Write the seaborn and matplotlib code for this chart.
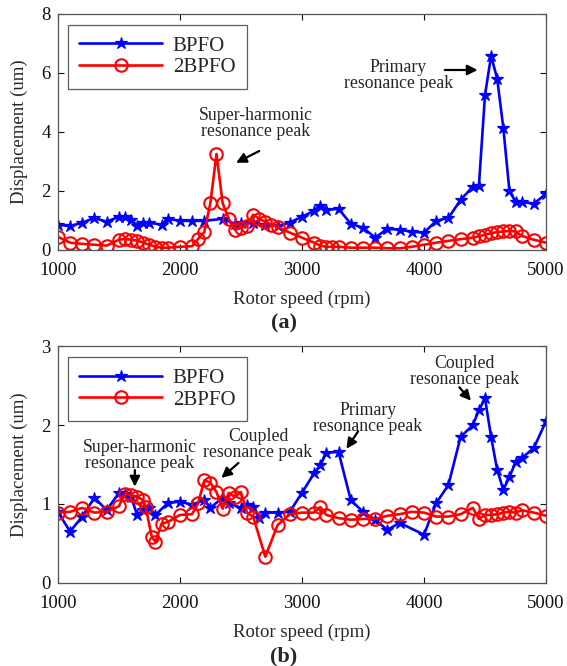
import matplotlib
matplotlib.use("Agg")
import matplotlib.pyplot as plt
import numpy as np
import pandas as pd
import seaborn as sns

# ---- panel (a) data ----
a_bpfo_rpm = [1000, 1100, 1200, 1300, 1400, 1500, 1550, 1600, 1650, 1700, 1750, 1850, 1900,
              2000, 2100, 2200, 2350, 2450, 2500, 2600, 2700, 2800, 2900, 3000, 3100, 3150,
              3200, 3300, 3400, 3500, 3600, 3700, 3800, 3900, 4000, 4100, 4200, 4300, 4400,
              4450, 4500, 4550, 4600, 4650, 4700, 4750, 4800, 4900, 5000]
a_bpfo_val = [0.85, 0.80, 0.92, 1.08, 0.95, 1.12, 1.10, 1.02, 0.82, 0.92, 0.92, 0.85, 1.05,
              0.98, 0.98, 0.98, 1.05, 0.88, 0.92, 0.90, 0.85, 0.80, 0.92, 1.12, 1.32, 1.50,
              1.35, 1.39, 0.88, 0.75, 0.41, 0.71, 0.68, 0.61, 0.58, 0.98, 1.08, 1.69, 2.14,
              2.17, 5.25, 6.58, 5.80, 4.14, 2.00, 1.63, 1.63, 1.56, 1.90]

a_2bpfo_rpm = [1000, 1100, 1200, 1300, 1400, 1500, 1550, 1600, 1650, 1700, 1750, 1800, 1850,
               1900, 2000, 2100, 2150, 2200, 2250, 2300, 2350, 2400, 2450, 2500, 2550, 2600,
               2650, 2700, 2750, 2800, 2900, 3000, 3100, 3150, 3200, 3250, 3300, 3400, 3500,
               3600, 3700, 3800, 3900, 4000, 4100, 4200, 4300, 4400, 4450, 4500, 4550, 4600,
               4650, 4700, 4750, 4800, 4900, 5000]
a_2bpfo_val = [0.44, 0.24, 0.20, 0.17, 0.14, 0.34, 0.37, 0.34, 0.31, 0.24, 0.17, 0.10, 0.07,
               0.07, 0.10, 0.12, 0.37, 0.60, 1.59, 3.25, 1.59, 1.05, 0.68, 0.75, 0.81, 1.19,
               1.05, 0.95, 0.85, 0.78, 0.58, 0.41, 0.24, 0.14, 0.10, 0.10, 0.10, 0.07, 0.07,
               0.07, 0.05, 0.05, 0.10, 0.17, 0.24, 0.30, 0.36, 0.41, 0.46, 0.51, 0.56, 0.60,
               0.62, 0.64, 0.62, 0.47, 0.34, 0.24]

# ---- panel (b) data ----
b_bpfo_rpm = [1000, 1100, 1200, 1300, 1400, 1500, 1550, 1600, 1650, 1700, 1750, 1800, 1900,
              2000, 2100, 2200, 2250, 2350, 2400, 2500, 2550, 2600, 2650, 2700, 2800, 2900,
              3000, 3100, 3150, 3200, 3300, 3400, 3500, 3600, 3700, 3800, 4000, 4100, 4200,
              4300, 4400, 4450, 4500, 4550, 4600, 4650, 4700, 4750, 4800, 4900, 5000]
b_bpfo_val = [0.90, 0.65, 0.84, 1.08, 0.92, 1.14, 1.13, 1.09, 0.86, 0.92, 0.95, 0.86, 1.01,
              1.03, 0.99, 1.05, 0.95, 1.08, 1.01, 0.95, 0.99, 0.96, 0.82, 0.89, 0.89, 0.90,
              1.14, 1.39, 1.49, 1.65, 1.66, 1.05, 0.90, 0.80, 0.67, 0.76, 0.61, 1.01, 1.24,
              1.85, 2.00, 2.19, 2.34, 1.85, 1.43, 1.18, 1.34, 1.53, 1.58, 1.71, 2.05]

b_2bpfo_rpm = [1000, 1100, 1200, 1300, 1400, 1500, 1550, 1600, 1650, 1700, 1720, 1770, 1800,
               1850, 1900, 2000, 2100, 2150, 2200, 2250, 2300, 2350, 2400, 2450, 2500, 2550,
               2600, 2700, 2800, 2900, 3000, 3100, 3150, 3200, 3300, 3400, 3500, 3600, 3700,
               3800, 3900, 4000, 4100, 4200, 4300, 4400, 4450, 4500, 4550, 4600, 4650, 4700,
               4750, 4800, 4900, 5000]
b_2bpfo_val = [0.89, 0.90, 0.95, 0.89, 0.90, 0.97, 1.13, 1.11, 1.09, 1.05, 0.96, 0.58, 0.52,
               0.75, 0.77, 0.86, 0.87, 1.01, 1.30, 1.27, 1.15, 0.94, 1.14, 1.09, 1.15, 0.89,
               0.84, 0.33, 0.73, 0.87, 0.89, 0.89, 0.96, 0.86, 0.82, 0.80, 0.81, 0.81, 0.85,
               0.87, 0.90, 0.89, 0.84, 0.84, 0.87, 0.95, 0.81, 0.86, 0.86, 0.87, 0.89, 0.90,
               0.89, 0.92, 0.89, 0.85]

x_ticks = [1000, 2000, 3000, 4000, 5000]
a_yticks = [0, 2, 4, 6, 8]
b_yticks = [0, 1, 2, 3]
series_names = ["BPFO", "2BPFO"]

sns.set_style("ticks")
plt.rcParams["font.family"] = ["Liberation Serif", "DejaVu Serif"]
plt.rcParams["mathtext.fontset"] = "stix"

fig = plt.figure(figsize=(5.67, 6.66), dpi=100)
ax_a = fig.add_axes([0.102, 0.625, 0.861, 0.354])
ax_b = fig.add_axes([0.102, 0.125, 0.861, 0.355])


def draw_panel(ax, bx, by, rx, ry, yticks):
    blue = pd.DataFrame({"rpm": bx, "disp": by})
    red = pd.DataFrame({"rpm": rx, "disp": ry})
    sns.lineplot(data=blue, x="rpm", y="disp", ax=ax, color="#0000ff", lw=1.9,
                 marker="*", markersize=9, markeredgecolor="#0000ff",
                 markerfacecolor="#0000ff", markeredgewidth=0.9, sort=False,
                 label=series_names[0])
    sns.lineplot(data=red, x="rpm", y="disp", ax=ax, color="#ff0000", lw=1.9,
                 marker="o", markersize=9, markeredgecolor="#ff0000",
                 markerfacecolor="none", markeredgewidth=1.5, sort=False,
                 label=series_names[1])
    ax.set_xlim(1000, 5000)
    ax.set_ylim(yticks[0], yticks[-1])
    ax.set_xticks(x_ticks)
    ax.set_yticks(yticks)
    ax.tick_params(direction="in", top=True, right=True, length=4, width=0.8,
                   labelsize=13.5, colors="#111111")
    ax.tick_params(axis="x", pad=9)
    ax.tick_params(axis="y", pad=5)
    for sp in ax.spines.values():
        sp.set_visible(True)
        sp.set_color("#555555")
        sp.set_linewidth(0.9)
    ax.set_xlabel("Rotor speed (rpm)", fontsize=13.5, labelpad=8)
    ax.set_ylabel("Displacement (um)", fontsize=13.5, labelpad=10)
    leg = ax.legend(loc="upper left", bbox_to_anchor=(0.02, 0.955), fontsize=15,
                    frameon=True, fancybox=False, edgecolor="#333333",
                    handlelength=4.0, borderpad=0.55, labelspacing=0.1,
                    handletextpad=0.5, borderaxespad=0.0)
    leg.get_frame().set_linewidth(0.9)


draw_panel(ax_a, a_bpfo_rpm, a_bpfo_val, a_2bpfo_rpm, a_2bpfo_val, a_yticks)
draw_panel(ax_b, b_bpfo_rpm, b_bpfo_val, b_2bpfo_rpm, b_2bpfo_val, b_yticks)

arrow_kw = dict(arrowstyle="-|>", color="black", lw=1.6, mutation_scale=15,
                shrinkA=0, shrinkB=0)
txt_kw = dict(fontsize=12.8, ha="center", va="center", linespacing=0.92)

# annotations on panel (a)
ax_a.text(2620, 4.3, "Super-harmonic\nresonance peak", **txt_kw)
ax_a.annotate("", xy=(2460, 2.95), xytext=(2650, 3.35), arrowprops=arrow_kw)
ax_a.text(3790, 5.9, "Primary\nresonance peak", **txt_kw)
ax_a.annotate("", xy=(4440, 6.1), xytext=(4170, 6.1), arrowprops=arrow_kw)

# annotations on panel (b)
ax_b.text(1670, 1.62, "Super-harmonic\nresonance peak", **txt_kw)
ax_b.annotate("", xy=(1631, 1.22), xytext=(1631, 1.43), arrowprops=arrow_kw)
ax_b.text(2640, 1.75, "Coupled\nresonance peak", **txt_kw)
ax_b.annotate("", xy=(2340, 1.33), xytext=(2480, 1.52), arrowprops=arrow_kw)
ax_b.text(3540, 2.09, "Primary\nresonance peak", **txt_kw)
ax_b.annotate("", xy=(3365, 1.70), xytext=(3460, 1.92), arrowprops=arrow_kw)
ax_b.text(4330, 2.68, "Coupled\nresonance peak", **txt_kw)
ax_b.annotate("", xy=(4385, 2.31), xytext=(4290, 2.48), arrowprops=arrow_kw)

fig.text(0.5, 1 - 323 / 666, "(a)", fontsize=16, fontweight="bold", ha="center", va="center")
fig.text(0.5, 1 - 656 / 666, "(b)", fontsize=16, fontweight="bold", ha="center", va="center")

fig.savefig("out.png", dpi=100, facecolor="white")
